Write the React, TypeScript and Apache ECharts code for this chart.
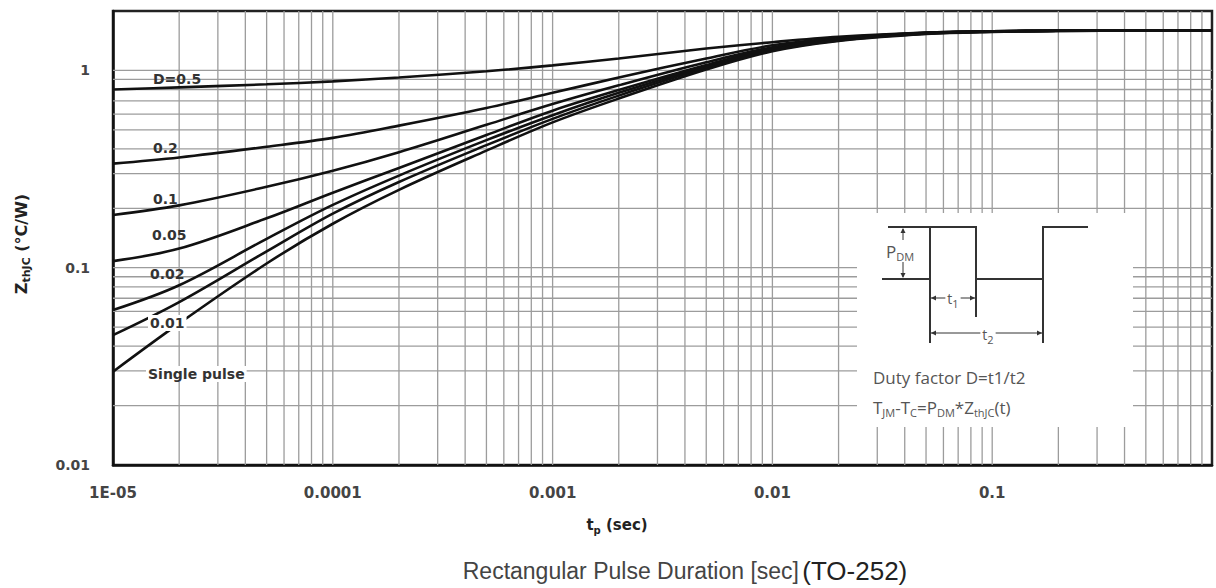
import React, { useEffect, useRef } from 'react';
import * as echarts from 'echarts';

// ---- data ----
const tValues = [1e-5, 2e-5, 5e-5, 1e-4, 2e-4, 5e-4, 1e-3, 2e-3, 5e-3, 1e-2, 2e-2, 5e-2, 1e-1, 2e-1, 5e-1, 1];
const zD05 = [0.80, 0.82, 0.85, 0.88, 0.92, 0.99, 1.06, 1.15, 1.29, 1.39, 1.48, 1.555, 1.58, 1.589, 1.592, 1.594];
const zD02 = [0.337, 0.362, 0.41, 0.455, 0.525, 0.645, 0.77, 0.92, 1.15, 1.34, 1.46, 1.55, 1.58, 1.589, 1.592, 1.594];
const zD01 = [0.185, 0.207, 0.257, 0.31, 0.385, 0.53, 0.675, 0.84, 1.10, 1.31, 1.45, 1.55, 1.58, 1.589, 1.592, 1.594];
const zD005 = [0.108, 0.125, 0.178, 0.24, 0.32, 0.47, 0.625, 0.795, 1.065, 1.295, 1.44, 1.545, 1.577, 1.588, 1.592, 1.594];
const zD002 = [0.061, 0.0815, 0.140, 0.208, 0.293, 0.443, 0.593, 0.77, 1.045, 1.28, 1.43, 1.54, 1.575, 1.587, 1.592, 1.594];
const zD001 = [0.0455, 0.0669, 0.121, 0.188, 0.272, 0.418, 0.568, 0.745, 1.03, 1.265, 1.42, 1.535, 1.572, 1.586, 1.591, 1.594];
const zSingle = [0.0297, 0.0522, 0.105, 0.167, 0.248, 0.392, 0.545, 0.72, 1.01, 1.25, 1.41, 1.53, 1.568, 1.584, 1.59, 1.594];

const seriesNames = ['D=0.5', 'D=0.2', 'D=0.1', 'D=0.05', 'D=0.02', 'D=0.01', 'Single pulse'];
const curveLabels = ['D=0.5', '0.2', '0.1', '0.05', '0.02', '0.01', 'Single pulse'];
const xTickLabels = ['1E-05', '0.0001', '0.001', '0.01', '0.1'];
const yTickLabels = ['0.01', '0.1', '1'];
const xDecades = [1e-5, 1e-4, 1e-3, 1e-2, 1e-1];
const yDecades = [0.01, 0.1];
const mantissas = [1, 2, 3, 4, 5, 6, 7, 8, 9];
const X_MIN = 1e-5, X_MAX = 1, Y_MIN = 0.01, Y_MAX = 2;

const curves = [zD05, zD02, zD01, zD005, zD002, zD001, zSingle];

export default function App() {
  const ref = useRef<HTMLDivElement>(null);

  useEffect(() => {
    if (!ref.current) return;
    const chart = echarts.init(ref.current, undefined, { renderer: 'svg' });

    const xGrid: number[] = [];
    xDecades.forEach((d) => mantissas.forEach((m) => { if (!(d === X_MIN && m === 1)) xGrid.push(d * m); }));
    const yGrid: number[] = [];
    yDecades.forEach((d) => mantissas.forEach((m) => { if (!(d === Y_MIN && m === 1)) yGrid.push(d * m); }));
    yGrid.push(1);

    const xFmt = (v: number) => {
      const l = Math.log10(v);
      const e = Math.round(l);
      if (Math.abs(l - e) > 1e-6) return '';
      return xTickLabels[e + 5] ?? '';
    };
    const yFmt = (v: number) => {
      const l = Math.log10(v);
      const e = Math.round(l);
      if (Math.abs(l - e) > 1e-6) return '';
      return yTickLabels[e + 2] ?? '';
    };

    const gridLineStyle = { color: '#9c9c9c', width: 1.3 };
    const gridSeries = [
      ...xGrid.map((v) => ({
        type: 'line', silent: true, symbol: 'none', z: 1, animation: false,
        data: [[v, Y_MIN], [v, Y_MAX]], lineStyle: gridLineStyle,
      })),
      ...yGrid.map((v) => ({
        type: 'line', silent: true, symbol: 'none', z: 1, animation: false,
        data: [[X_MIN, v], [X_MAX, v]], lineStyle: gridLineStyle,
      })),
    ];

    const labelFont = { fontFamily: 'DejaVu Sans', fontWeight: 'bold', fontSize: 14 };
    const labelPos = [
      [153, 79], [153, 148], [153, 199], [152, 235], [150, 274], [148, 323], [146, 374],
    ];
    const curveLabelEls = curveLabels.map((txt, i) => ({
      type: 'text',
      x: labelPos[i][0],
      y: labelPos[i][1],
      z: 20,
      style: {
        text: txt,
        ...labelFont,
        fill: '#333',
        align: 'left', textAlign: 'left',
        verticalAlign: 'middle', textVerticalAlign: 'middle',
        backgroundColor: i >= 5 ? '#fff' : undefined,
        padding: i >= 5 ? [1, 2] : 0,
      },
    }));

    const insetColor = '#333';
    const ln = (x1: number, y1: number, x2: number, y2: number, w = 2, c = insetColor) => ({
      type: 'line', z: 31, shape: { x1, y1, x2, y2 }, style: { stroke: c, lineWidth: w },
    });
    const arrow = (x: number, y: number, dir: 'l' | 'r' | 'u' | 'd') => {
      const s = 5, h = 2.5;
      let pts: number[][] = [];
      if (dir === 'l') pts = [[x, y], [x + s, y - h], [x + s, y + h]];
      if (dir === 'r') pts = [[x, y], [x - s, y - h], [x - s, y + h]];
      if (dir === 'u') pts = [[x, y], [x - h, y + s], [x + h, y + s]];
      if (dir === 'd') pts = [[x, y], [x - h, y - s], [x + h, y - s]];
      return { type: 'polygon', z: 31, shape: { points: pts }, style: { fill: insetColor } };
    };
    const richBase = {
      n: { fontFamily: 'Open Sans', fontSize: 17, lineHeight: 22, fill: '#555', color: '#555' },
      s: { fontFamily: 'Open Sans', fontSize: 11, lineHeight: 11, verticalAlign: 'bottom', fill: '#555', color: '#555' },
    };

    const insetEls = [
      { type: 'rect', z: 30, shape: { x: 857, y: 213, width: 276, height: 214 }, style: { fill: '#fff' } },
      {
        type: 'polyline', z: 31,
        shape: { points: [[882, 279], [930, 279], [930, 227], [976, 227], [976, 279], [1043, 279], [1043, 227], [1088, 227]] },
        style: { stroke: insetColor, lineWidth: 2, fill: 'none' },
      },
      ln(888, 227, 930, 227),
      ln(903, 229, 903, 277, 1),
      arrow(903, 228, 'u'),
      arrow(903, 278, 'd'),
      {
        type: 'text', z: 32, x: 886, y: 251,
        style: {
          text: '{n|P}{s|DM}', rich: richBase, align: 'left', textAlign: 'left',
          verticalAlign: 'middle', textVerticalAlign: 'middle', backgroundColor: '#fff',
        },
      },
      ln(930, 279, 930, 343, 2),
      ln(976, 279, 976, 317, 2),
      ln(1043, 279, 1043, 343, 2),
      ln(931, 298, 975, 298, 1),
      arrow(931, 298, 'l'), arrow(975, 298, 'r'),
      {
        type: 'text', z: 32, x: 953, y: 298,
        style: {
          text: '{n|t}{s|1}', rich: { n: { ...richBase.n, fontSize: 14 }, s: richBase.s },
          align: 'center', textAlign: 'center', verticalAlign: 'middle', textVerticalAlign: 'middle',
          backgroundColor: '#fff', padding: [0, 2],
        },
      },
      ln(931, 333, 1042, 333, 1),
      arrow(931, 333, 'l'), arrow(1042, 333, 'r'),
      {
        type: 'text', z: 32, x: 988, y: 334,
        style: {
          text: '{n|t}{s|2}', rich: { n: { ...richBase.n, fontSize: 14 }, s: richBase.s },
          align: 'center', textAlign: 'center', verticalAlign: 'middle', textVerticalAlign: 'middle',
          backgroundColor: '#fff', padding: [0, 2],
        },
      },
      {
        type: 'text', z: 32, x: 873, y: 377,
        style: {
          text: 'Duty factor D=t1/t2', fontFamily: 'Open Sans', fontSize: 17, fill: '#555',
          align: 'left', textAlign: 'left', verticalAlign: 'middle', textVerticalAlign: 'middle',
        },
      },
      {
        type: 'text', z: 32, x: 873, y: 407,
        style: {
          text: '{n|T}{s|JM}{n|-T}{s|C}{n|=P}{s|DM}{n|*Z}{s|thJC}{n|(t)}', rich: richBase,
          align: 'left', textAlign: 'left', verticalAlign: 'middle', textVerticalAlign: 'middle',
        },
      },
    ];

    const axisTitleEls = [
      {
        type: 'text', z: 20, x: 21, y: 244, rotation: Math.PI / 2,
        style: {
          text: '{n|Z}{s|thJC}{n| (°C/W)}',
          rich: {
            n: { fontFamily: 'DejaVu Sans', fontWeight: 'bold', fontSize: 16, lineHeight: 21, fill: '#222', color: '#222' },
            s: { fontFamily: 'DejaVu Sans', fontWeight: 'bold', fontSize: 11, lineHeight: 11, verticalAlign: 'bottom', fill: '#222', color: '#222' },
          },
          align: 'center', textAlign: 'center', verticalAlign: 'middle', textVerticalAlign: 'middle',
        },
      },
      {
        type: 'text', z: 20, x: 617, y: 525,
        style: {
          text: '{n|t}{s|p}{n| (sec)}',
          rich: {
            n: { fontFamily: 'DejaVu Sans', fontWeight: 'bold', fontSize: 15, lineHeight: 20, fill: '#222', color: '#222' },
            s: { fontFamily: 'DejaVu Sans', fontWeight: 'bold', fontSize: 10, lineHeight: 10, verticalAlign: 'bottom', fill: '#222', color: '#222' },
          },
          align: 'center', textAlign: 'center', verticalAlign: 'middle', textVerticalAlign: 'middle',
        },
      },
      {
        type: 'text', z: 20, x: 685, y: 571,
        style: {
          text: '{a|Rectangular Pulse Duration [sec]} {b|(TO-252)}',
          rich: {
            a: { fontFamily: 'Liberation Sans', fontSize: 23, lineHeight: 30, fill: '#444', color: '#444' },
            b: { fontFamily: 'Liberation Sans', fontSize: 26, lineHeight: 30, fill: '#222', color: '#222' },
          },
          align: 'center', textAlign: 'center', verticalAlign: 'middle', textVerticalAlign: 'middle',
        },
      },
    ];

    const option: any = {
      animation: false,
      backgroundColor: '#fff',
      grid: { left: 113, right: 4, top: 11, bottom: 123, show: true, borderColor: '#222', borderWidth: 2.5, backgroundColor: 'transparent' },
      xAxis: {
        type: 'log', logBase: 10, min: X_MIN, max: X_MAX,
        axisLine: { show: true, lineStyle: { color: '#111', width: 2.5 } },
        axisTick: { show: false },
        splitLine: { show: false },
        axisLabel: { formatter: xFmt, margin: 20, fontFamily: 'DejaVu Sans', fontWeight: 'bold', fontSize: 15, color: '#444' },
      },
      yAxis: {
        type: 'log', logBase: 10, min: Y_MIN, max: Y_MAX,
        axisLine: { show: true, lineStyle: { color: '#111', width: 2.5 } },
        axisTick: { show: false },
        splitLine: { show: false },
        axisLabel: { formatter: yFmt, margin: 23, fontFamily: 'DejaVu Sans', fontWeight: 'bold', fontSize: 14, color: '#444' },
      },
      series: [
        ...gridSeries,
        ...curves.map((c, i) => ({
          name: seriesNames[i],
          type: 'line',
          data: tValues.map((t, j) => [t, c[j]]),
          smooth: 0.35,
          symbol: 'none',
          z: 5,
          lineStyle: { color: '#111', width: 2.6 },
        })),
      ],
      graphic: { elements: [...curveLabelEls, ...insetEls, ...axisTitleEls] },
    };

    chart.setOption(option);
    return () => chart.dispose();
  }, []);

  return <div ref={ref} style={{ position: 'absolute', left: 0, top: 0, width: 1216, height: 588 }} />;
}
